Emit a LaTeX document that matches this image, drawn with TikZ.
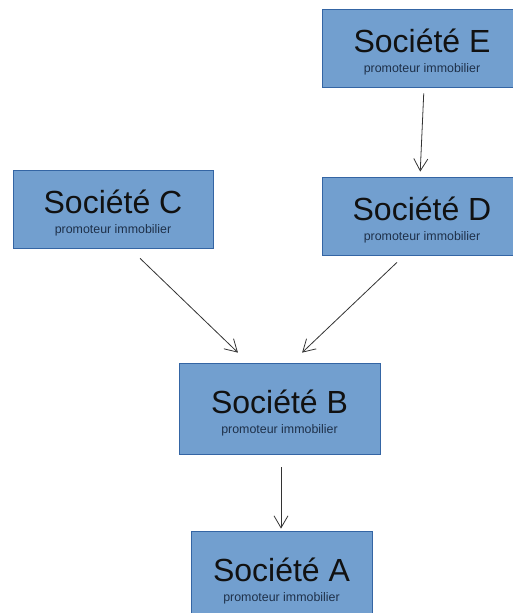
\documentclass[tikz,border=0pt]{standalone}
\usepackage{fontspec}
\setmainfont{Liberation Sans}
\usepackage{tikz}
\usetikzlibrary{arrows.meta}
\definecolor{boxfill}{HTML}{729FCF}
\definecolor{boxline}{HTML}{3465A4}
\definecolor{subtext}{HTML}{1E3049}
\definecolor{arrowgray}{HTML}{333333}
\newcommand{\societe}[1]{{\fontsize{32}{34}\selectfont\color[HTML]{111111}\rule{0pt}{32pt}Société #1}\\[5pt]{\color{subtext}promoteur immobilier}}

\begin{document}
\begin{tikzpicture}[x=1pt, y=-1pt,
	societe/.style={draw=boxline, fill=boxfill, line width=0.8pt, inner sep=0pt, align=center,
		minimum width=200pt, minimum height=78pt, font=\fontsize{12.4}{15}\selectfont},
	fleche/.style={-{Straight Barb[length=12pt,width=14pt]}, color=arrowgray, line width=0.8pt}]
\useasboundingbox (0,0) rectangle (513,613);
\node[societe] (e) at (422,48) {\societe{E}};
\node[societe] (c) at (113,209) {\societe{C}};
\node[societe] (d) at (422,216) {\societe{D}};
\node[societe, minimum width=201pt, minimum height=91pt] (b) at (279.5,408.5) {\societe{B}};
\node[societe, minimum width=181pt, minimum height=91pt] (a) at (281.5,576.5) {\societe{A}};
\path[fleche]
([xshift=2pt]e.south) edge[shorten <=6pt, shorten >=5pt] ([xshift=-2pt]d.north)
([xshift=16.7pt]c.south) edge[shorten <=14.4pt, shorten >=14.4pt] ([xshift=-31.2pt]b.north)
([xshift=-17.7pt]d.south) edge[shorten <=10.1pt, shorten >=14.5pt] ([xshift=12.1pt]b.north)
([xshift=1.5pt]b.south) edge[shorten <=13pt, shorten >=2pt] ([xshift=-0.5pt]a.north);
\end{tikzpicture}
\end{document}
